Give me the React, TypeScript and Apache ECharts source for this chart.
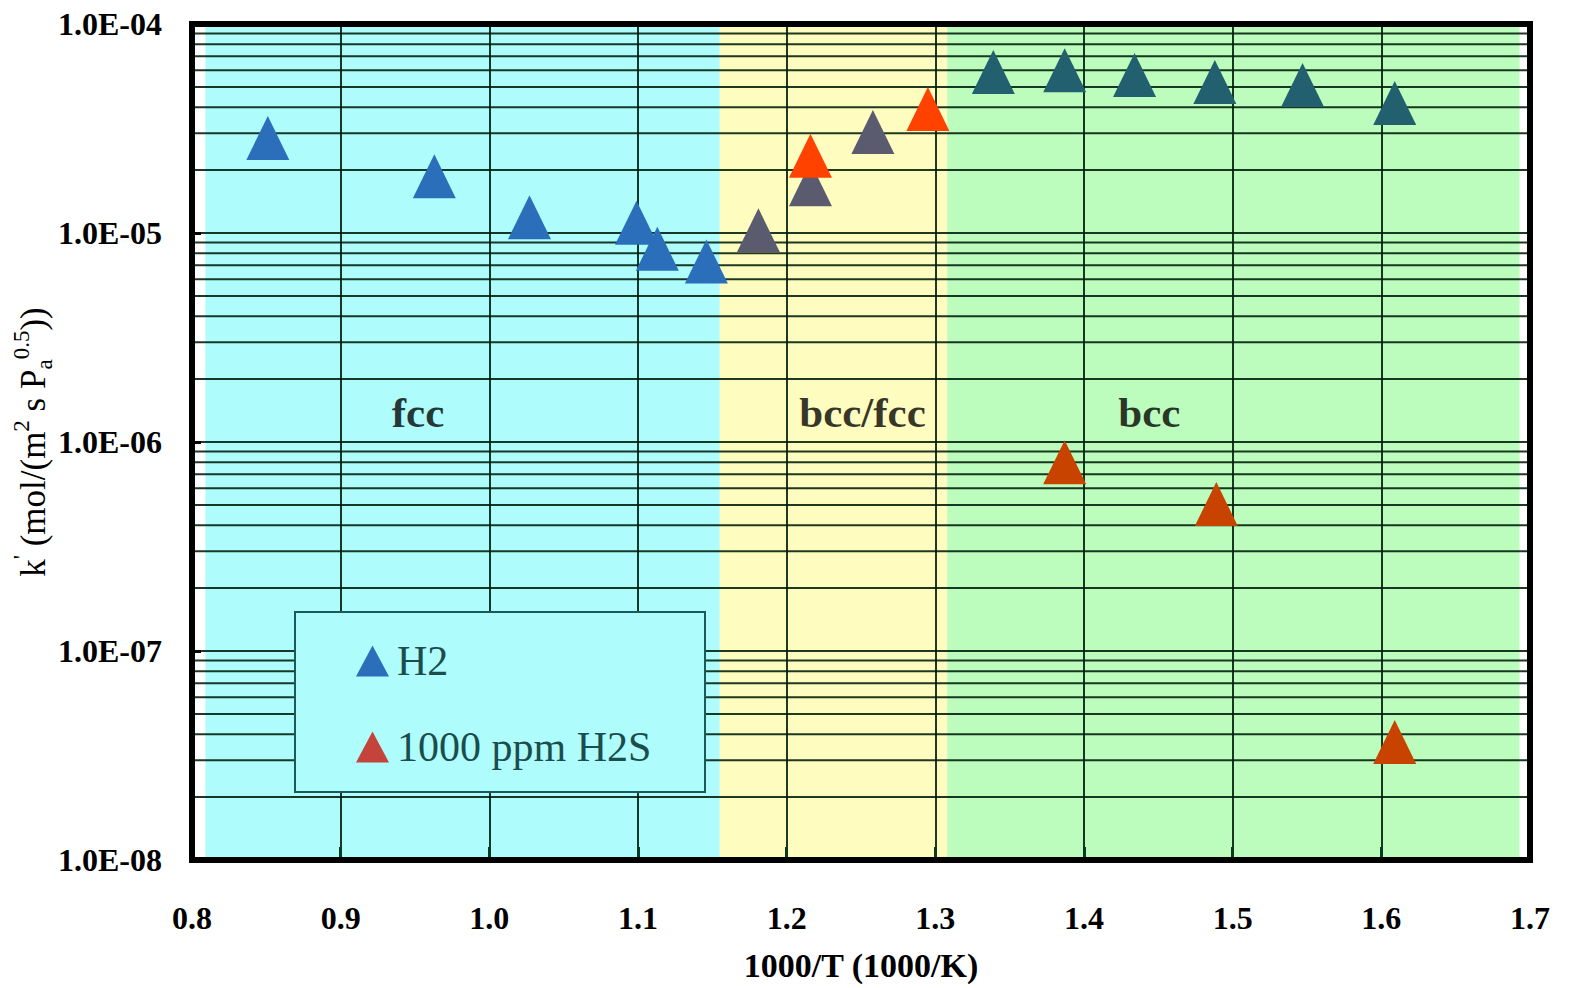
import React, { useEffect, useRef } from "react";
import * as echarts from "echarts";

// ---- data ----
const h2FccX = [0.851, 0.963, 1.027, 1.099, 1.113, 1.146];
const h2FccY = [2.85e-5, 1.87e-5, 1.19e-5, 1.12e-5, 8.4e-6, 7.3e-6];

const h2MixX = [1.181, 1.216, 1.258];
const h2MixY = [1.03e-5, 1.71e-5, 3.04e-5];

const h2sMixX = [1.216, 1.295];
const h2sMixY = [2.34e-5, 3.92e-5];

const h2BccX = [1.339, 1.387, 1.434, 1.488, 1.547, 1.609];
const h2BccY = [5.9e-5, 6.0e-5, 5.7e-5, 5.28e-5, 5.11e-5, 4.19e-5];

const h2sBccX = [1.387, 1.489, 1.609];
const h2sBccY = [8.0e-7, 5.05e-7, 3.67e-8];

const phaseNames = ["fcc", "bcc/fcc", "bcc"];
const phaseStart = [0.809, 1.155, 1.308];
const phaseEnd = [1.155, 1.308, 1.693];
const phaseLabelX = [0.952, 1.251, 1.444];
const phaseLabelY = [1.38e-6, 1.38e-6, 1.38e-6];

const X_MIN = 0.8;
const X_MAX = 1.7;
const X_STEP = 0.1;
const Y_MIN = 1e-8;
const Y_MAX = 1e-4;
const decades = [-8, -7, -6, -5];
const minorMultipliers = [2, 3, 4, 5, 6, 7, 8, 9];

const legendNames = ["H2", "1000 ppm H2S"];

// ---- styles ----
const phaseColors = ["#aefcfc", "#fefcbe", "#bcfcbc"];
const FONT = '"Liberation Serif", "Times New Roman", serif';
const GRID_COLOR = "rgba(0,28,10,0.88)";

const zip = (xs: number[], ys: number[]) => xs.map((x, i) => [x, ys[i]]);

export default function App() {
  const ref = useRef<HTMLDivElement>(null);
  useEffect(() => {
    if (!ref.current) return;
    const chart = echarts.init(ref.current, undefined, { renderer: "svg" });

    const minorValues: number[] = [];
    decades.forEach((d) => minorMultipliers.forEach((m) => minorValues.push(m * Math.pow(10, d))));

    const tri = (name: string, color: string, xs: number[], ys: number[]) => ({
      name,
      type: "scatter",
      z: 5,
      symbol: "triangle",
      symbolSize: [43, 44],
      itemStyle: { color, opacity: 1 },
      data: zip(xs, ys),
    });

    const option: any = {
      animation: false,
      backgroundColor: "#ffffff",
      grid: {
        left: 192,
        top: 24,
        right: 41,
        bottom: 128,
        containLabel: false,
        outerBoundsMode: "none",
        show: true,
        backgroundColor: "transparent",
        borderColor: "#000",
        borderWidth: 6,
        z: 4,
      },
      xAxis: {
        type: "value",
        min: X_MIN,
        max: X_MAX,
        interval: X_STEP,
        z: 3,
        name: "1000/T (1000/K)",
        nameLocation: "middle",
        nameGap: 88,
        nameMoveOverlap: false,
        nameTextStyle: { fontFamily: FONT, fontSize: 34, fontWeight: "bold", color: "#000" },
        axisLine: { show: true, lineStyle: { color: "#000", width: 6 } },
        axisTick: { show: true, inside: true, length: 13, lineStyle: { color: "#0a3a22", width: 3 } },
        axisLabel: {
          margin: 42,
          fontFamily: FONT,
          fontSize: 32,
          fontWeight: "bold",
          color: "#000",
          formatter: (v: number) => v.toFixed(1),
        },
        splitLine: { show: true, lineStyle: { color: GRID_COLOR, width: 2 } },
      },
      yAxis: {
        type: "log",
        logBase: 10,
        min: Y_MIN,
        max: Y_MAX,
        splitNumber: 4,
        z: 3,
        name: "k{sup|'} (mol/(m{sup|2} s P{sub|a}{sup|0.5}))",
        nameLocation: "middle",
        nameRotate: 90,
        nameGap: 136,
        nameMoveOverlap: false,
        nameTextStyle: {
          fontFamily: FONT,
          fontSize: 35,
          color: "#000",
          lineHeight: 46,
          rich: {
            sup: { fontFamily: FONT, fontSize: 23, lineHeight: 24, verticalAlign: "top", color: "#000" },
            sub: { fontFamily: FONT, fontSize: 23, lineHeight: 24, verticalAlign: "bottom", color: "#000" },
          },
        },
        axisLine: { show: true, lineStyle: { color: "#000", width: 6 } },
        axisTick: { show: true, inside: true, length: 9, lineStyle: { color: "#000", width: 3 } },
        axisLabel: {
          margin: 30,
          fontFamily: FONT,
          fontSize: 32,
          fontWeight: "bold",
          color: "#000",
          formatter: (v: number) => {
            const e = Math.round(Math.log10(v));
            return "1.0E-" + String(-e).padStart(2, "0");
          },
        },
        splitLine: { show: true, lineStyle: { color: GRID_COLOR, width: 2 } },
        minorTick: { show: false },
      },
      legend: {
        show: true,
        selectedMode: false,
        orient: "vertical",
        left: 351,
        top: 635,
        z: 7,
        itemGap: 44,
        itemWidth: 33,
        itemHeight: 31,
        icon: "triangle",
        textStyle: { fontFamily: FONT, fontSize: 42, color: "#1b4d4d", padding: [0, 0, 0, 3] },
        data: [
          { name: legendNames[0], itemStyle: { color: "#2b6fbb" } },
          { name: legendNames[1], itemStyle: { color: "#c4443b" } },
        ],
      },
      graphic: [
        {
          type: "rect",
          z: 6,
          shape: { x: 295, y: 612, width: 410, height: 180 },
          style: { fill: "#aefcfc", stroke: "#1a5a5a", lineWidth: 2 },
        },
      ],
      series: [
        {
          name: "phases",
          type: "scatter",
          z: 1,
          silent: true,
          data: [],
          markArea: {
            silent: true,
            label: { show: false },
            data: phaseNames.map((n, i) => [
              { xAxis: phaseStart[i], yAxis: Y_MAX, itemStyle: { color: phaseColors[i], opacity: 1 } },
              { xAxis: phaseEnd[i], yAxis: Y_MIN },
            ]),
          },
        },
        {
          name: "minor grid",
          type: "custom",
          z: 2,
          silent: true,
          clip: false,
          data: minorValues.map((v) => [X_MIN, v]),
          renderItem: (params: any, api: any) => {
            const v = api.value(1);
            const p1 = api.coord([X_MIN, v]);
            const p2 = api.coord([X_MAX, v]);
            return {
              type: "line",
              shape: { x1: p1[0], y1: p1[1], x2: p2[0], y2: p2[1] },
              style: { stroke: GRID_COLOR, lineWidth: 2 },
            };
          },
        },
        tri("H2", "#2b6fbb", h2FccX, h2FccY),
        tri("H2 bcc/fcc", "#5b5b70", h2MixX, h2MixY),
        tri("H2S bcc/fcc", "#ff4200", h2sMixX, h2sMixY),
        tri("H2 bcc", "#22606f", h2BccX, h2BccY),
        tri("1000 ppm H2S", "#c94300", h2sBccX, h2sBccY),
        {
          name: "phase labels",
          type: "scatter",
          z: 5,
          silent: true,
          symbolSize: 0,
          label: {
            show: true,
            position: "inside",
            fontFamily: FONT,
            fontSize: 43,
            fontWeight: "bold",
            color: "#000",
            formatter: (p: any) => p.name,
          },
          data: phaseNames.map((n, i) => ({ name: n, value: [phaseLabelX[i], phaseLabelY[i]] })),
        },
      ],
    };
    chart.setOption(option);
    return () => chart.dispose();
  }, []);
  return (
    <div
      ref={ref}
      style={{ position: "fixed", left: 0, top: 0, width: 1571, height: 988 }}
    />
  );
}
